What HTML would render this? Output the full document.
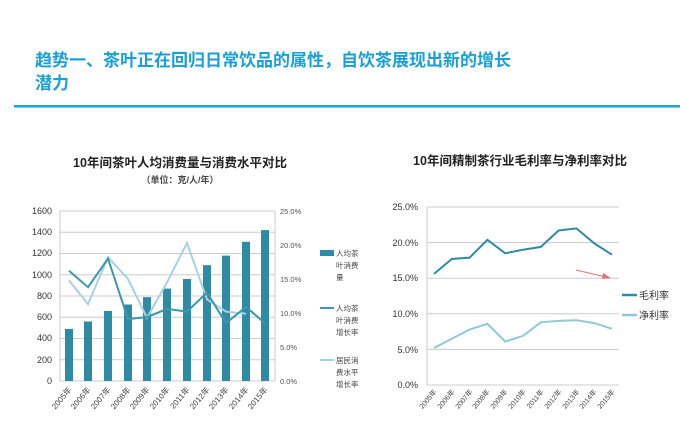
<!DOCTYPE html>
<html><head><meta charset="utf-8"><style>
body{margin:0;background:#fff;}
svg{display:block;font-family:"Liberation Sans","Noto Sans CJK SC",sans-serif;}
</style></head><body>
<svg width="680" height="424" viewBox="0 0 680 424">
<rect width="680" height="424" fill="#fff"/>
<text x="35" y="66" font-size="17" font-weight="bold" fill="#1a9fd6">趋势一、茶叶正在回归日常饮品的属性，自饮茶展现出新的增长</text>
<text x="35" y="89" font-size="17" font-weight="bold" fill="#1a9fd6">潜力</text>
<rect x="14" y="105" width="666" height="2.5" fill="#1aa3d8"/>

<!-- Left chart -->
<text x="180" y="167" font-size="12.5" font-weight="bold" text-anchor="middle" fill="#222">10年间茶叶人均消费量与消费水平对比</text>
<text x="180" y="183" font-size="9" font-weight="bold" text-anchor="middle" fill="#444">（单位：克/人/年）</text>
<g stroke="#ccc" stroke-width="1">
<line x1="60" y1="211" x2="275" y2="211"/><line x1="60" y1="232.25" x2="275" y2="232.25"/>
<line x1="60" y1="253.5" x2="275" y2="253.5"/><line x1="60" y1="274.75" x2="275" y2="274.75"/>
<line x1="60" y1="296" x2="275" y2="296"/><line x1="60" y1="317.25" x2="275" y2="317.25"/>
<line x1="60" y1="338.5" x2="275" y2="338.5"/><line x1="60" y1="359.75" x2="275" y2="359.75"/>
<line x1="60" y1="381" x2="275" y2="381"/>
<line x1="60" y1="211" x2="60" y2="381"/><line x1="275" y1="211" x2="275" y2="381"/>
</g>
<g font-size="9" fill="#333" text-anchor="end">
<text x="52" y="214">1600</text><text x="52" y="235">1400</text><text x="52" y="256">1200</text>
<text x="52" y="278">1000</text><text x="52" y="299">800</text><text x="52" y="320">600</text>
<text x="52" y="341">400</text><text x="52" y="363">200</text><text x="52" y="384">0</text>
</g>
<g font-size="7.5" fill="#555">
<text x="280" y="214">25.0%</text><text x="280" y="248">20.0%</text><text x="280" y="282">15.0%</text>
<text x="280" y="316">10.0%</text><text x="280" y="350">5.0%</text><text x="280" y="384">0.0%</text>
</g>
<g fill="#2e8aa5">
<rect x="65" y="328.9" width="8" height="52.1"/><rect x="84" y="321.5" width="8" height="59.5"/>
<rect x="104" y="310.9" width="8" height="70.1"/><rect x="124" y="304.5" width="8" height="76.5"/>
<rect x="143" y="297.1" width="8" height="83.9"/><rect x="163" y="288.6" width="8" height="92.4"/>
<rect x="183" y="279" width="8" height="102"/><rect x="203" y="265.2" width="8" height="115.8"/>
<rect x="222" y="255.6" width="8" height="125.4"/><rect x="242" y="241.8" width="8" height="139.2"/>
<rect x="261" y="230.1" width="8" height="150.9"/>
</g>
<polyline fill="none" stroke="#a6d3dc" stroke-width="2" points="69,280.4 88,304.2 108,257.2 128,279 147,317.8 167,282.4 187,243 207,299.4 226,311.6 246,313.7"/>
<polyline fill="none" stroke="#3c97ae" stroke-width="2" points="69,270.8 88,287.2 108,258.6 128,319.1 147,317.1 167,308.9 187,311.6 207,292.6 226,323.2 246,306.9 265,323.2"/>
<g font-size="8" fill="#444" text-anchor="end">
<text transform="translate(72,390) rotate(-50)">2005年</text><text transform="translate(91,390) rotate(-50)">2006年</text>
<text transform="translate(111,390) rotate(-50)">2007年</text><text transform="translate(131,390) rotate(-50)">2008年</text>
<text transform="translate(150,390) rotate(-50)">2009年</text><text transform="translate(170,390) rotate(-50)">2010年</text>
<text transform="translate(190,390) rotate(-50)">2011年</text><text transform="translate(210,390) rotate(-50)">2012年</text>
<text transform="translate(229,390) rotate(-50)">2013年</text><text transform="translate(249,390) rotate(-50)">2014年</text>
<text transform="translate(268,390) rotate(-50)">2015年</text>
</g>
<rect x="320" y="250" width="14" height="6" fill="#2e8aa5"/>
<line x1="320" y1="308" x2="334" y2="308" stroke="#3c97ae" stroke-width="2"/>
<line x1="320" y1="360" x2="334" y2="360" stroke="#a6d3dc" stroke-width="2"/>
<g font-size="7.5" fill="#444">
<text x="336" y="256">人均茶</text><text x="336" y="268">叶消费</text><text x="336" y="280">量</text>
<text x="336" y="311">人均茶</text><text x="336" y="323">叶消费</text><text x="336" y="335">增长率</text>
<text x="336" y="363">居民消</text><text x="336" y="375">费水平</text><text x="336" y="387">增长率</text>
</g>

<!-- Right chart -->
<text x="520" y="165" font-size="12.5" font-weight="bold" text-anchor="middle" fill="#222">10年间精制茶行业毛利率与净利率对比</text>
<g stroke="#ccc" stroke-width="1">
<line x1="427" y1="207" x2="619" y2="207"/><line x1="427" y1="242.6" x2="619" y2="242.6"/>
<line x1="427" y1="278.2" x2="619" y2="278.2"/><line x1="427" y1="313.8" x2="619" y2="313.8"/>
<line x1="427" y1="349.4" x2="619" y2="349.4"/><line x1="427" y1="385" x2="619" y2="385"/>
<line x1="427" y1="207" x2="427" y2="385"/>
</g>
<g font-size="9" fill="#333" text-anchor="end">
<text x="418" y="210">25.0%</text><text x="418" y="246">20.0%</text><text x="418" y="281">15.0%</text>
<text x="418" y="317">10.0%</text><text x="418" y="353">5.0%</text><text x="418" y="388">0.0%</text>
</g>
<polyline fill="none" stroke="#2f8ba3" stroke-width="2" points="434,273.9 451.8,259 469.6,257.6 487.4,239.8 505.2,253.3 523,249.7 540.8,246.9 558.6,230.5 576.4,228.4 594.2,243.3 612,254.7"/>
<polyline fill="none" stroke="#8fc9d4" stroke-width="2" points="434,348 451.8,338.7 469.6,329.5 487.4,323.8 505.2,341.6 523,335.9 540.8,322.3 558.6,320.9 576.4,320.2 594.2,323.1 612,328.8"/>
<line x1="576" y1="270" x2="608" y2="277.5" stroke="#d77" stroke-width="1"/>
<polygon points="611,278 603,273 602,279" fill="#d77"/>
<g font-size="7" fill="#444" text-anchor="end">
<text transform="translate(437,392) rotate(-50)">2005年</text><text transform="translate(455,392) rotate(-50)">2006年</text>
<text transform="translate(473,392) rotate(-50)">2007年</text><text transform="translate(490,392) rotate(-50)">2008年</text>
<text transform="translate(508,392) rotate(-50)">2009年</text><text transform="translate(526,392) rotate(-50)">2010年</text>
<text transform="translate(544,392) rotate(-50)">2011年</text><text transform="translate(562,392) rotate(-50)">2012年</text>
<text transform="translate(580,392) rotate(-50)">2013年</text><text transform="translate(597,392) rotate(-50)">2014年</text>
<text transform="translate(615,392) rotate(-50)">2015年</text>
</g>
<line x1="622" y1="295" x2="637" y2="295" stroke="#2f8ba3" stroke-width="2.5"/>
<line x1="622" y1="315" x2="637" y2="315" stroke="#8fc9d4" stroke-width="2.5"/>
<g font-size="10" fill="#333">
<text x="639" y="299">毛利率</text><text x="639" y="319">净利率</text>
</g>
</svg>
</body></html>
